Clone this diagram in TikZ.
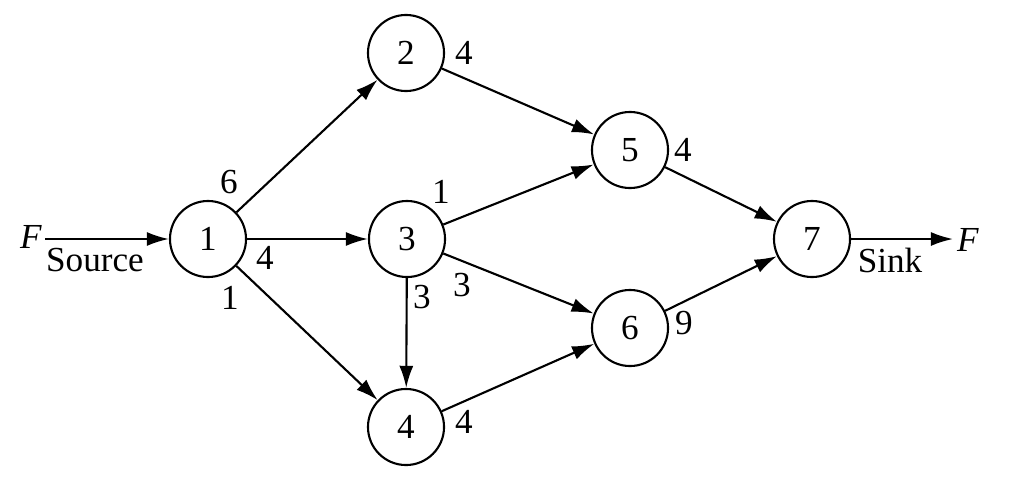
\documentclass[tikz,border=0pt]{standalone}
\usepackage{fontspec}
\setmainfont{Liberation Serif}
\usetikzlibrary{arrows.meta}
\begin{document}
\begin{tikzpicture}[x=0.01cm, y=-0.01cm,
        vertex/.style={draw, circle, line width=0.6pt, minimum size=0.76cm, inner sep=0pt, font=\fontsize{10}{12}\selectfont},
        flow/.style={line width=0.6pt, -{Latex[length=6.3pt,width=4pt]}},
        weight/.style={inner sep=0pt, font=\fontsize{10}{12}\selectfont}]
        \useasboundingbox (0,0) rectangle (1025,500);

        \node[vertex] (n1) at (208,239) {1};
        \node[vertex] (n2) at (406,53) {2};
        \node[vertex] (n3) at (407,239) {3};
        \node[vertex] (n4) at (406,427) {4};
        \node[vertex] (n5) at (630,150) {5};
        \node[vertex] (n6) at (630,328) {6};
        \node[vertex] (n7) at (812,239) {7};

        \coordinate (fin) at (45,239);
        \coordinate (fout) at (953,239);

        \draw[flow] (fin) -- (n1);
        \draw[flow] (n1) -- (n2);
        \draw[flow] (n1) -- (n3);
        \draw[flow] (n1) -- (n4);
        \draw[flow] (n2) -- (n5);
        \draw[flow] (n3) -- (n5);
        \draw[flow] (n3) -- (n6);
        \draw[flow] (n3) -- (n4);
        \draw[flow] (n4) -- (n6);
        \draw[flow] (n5) -- (n7);
        \draw[flow] (n6) -- (n7);
        \draw[flow] (n7) -- (fout);

        \node[weight] (fleft) at (31,237) {\textit{F}};
        \node[weight] (fright) at (968,240) {\textit{F}};
        \node[weight] (source) at (95,260) {Source};
        \node[weight] (sink) at (890,260) {Sink};

        \node[weight] (c12) at (229,182) {6};
        \node[weight] (c13) at (265,258) {4};
        \node[weight] (c14) at (230,298) {1};
        \node[weight] (c2) at (464,53) {4};
        \node[weight] (c35) at (441,192) {1};
        \node[weight] (c34) at (422,297) {3};
        \node[weight] (c36) at (462,285) {3};
        \node[weight] (c4) at (464,422) {4};
        \node[weight] (c5) at (683,150) {4};
        \node[weight] (c6) at (684,323) {9};
    \end{tikzpicture}
\end{document}
